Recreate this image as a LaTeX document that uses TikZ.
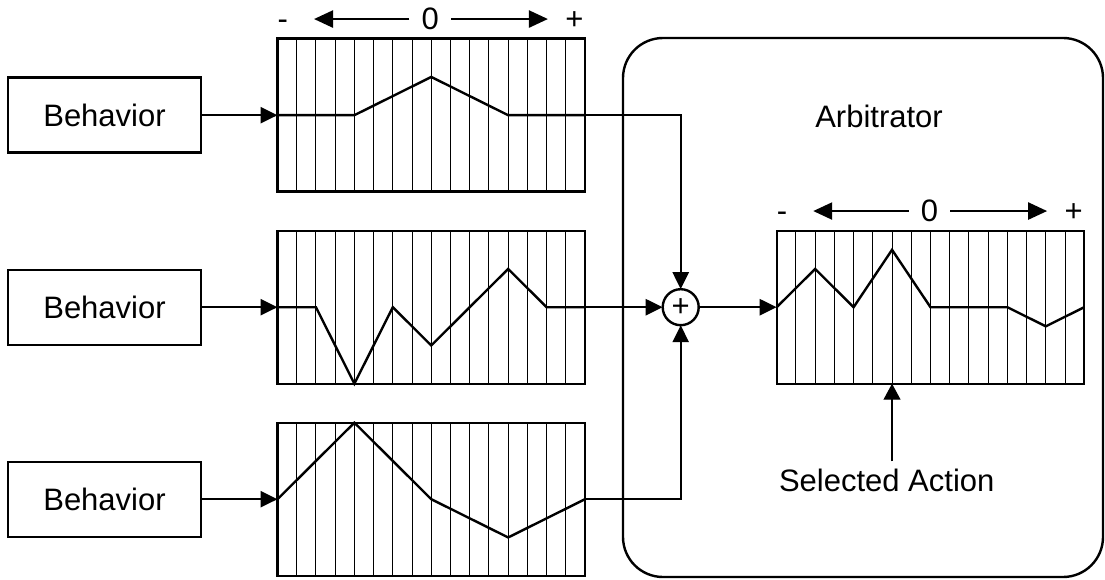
\documentclass[tikz,border=0pt]{standalone}
\usepackage{fontspec}
\setmainfont{Liberation Sans}
\usetikzlibrary{arrows.meta,positioning}

\begin{document}
\begin{tikzpicture}[x=1pt,y=-1pt,
	font=\fontsize{31}{36}\selectfont,
	behavior/.style={rectangle,draw,line width=2.4pt,outer sep=0pt,minimum width=193pt,minimum height=75pt},
	votegrid/.style={rectangle,draw,line width=2.4pt,outer sep=0pt,inner sep=0pt,minimum width=307.5pt,minimum height=153pt},
	divider/.style={line width=1pt},
	profile/.style={line width=2.4pt,line join=miter},
	adder/.style={circle,draw,line width=2.4pt,outer sep=0pt,inner sep=0pt,minimum size=36pt},
	arbiter/.style={rectangle,draw,line width=2.4pt,rounded corners=40pt,minimum width=480pt,minimum height=539pt},
	paths/.style={-{Triangle[length=17pt,width=16pt]}, line width=2.4pt},
	scalearrow/.style={-{Triangle[length=19pt,width=17pt]}, line width=2.4pt},
	pointer/.style={-{Triangle[length=16pt,width=17pt]}, line width=1.2pt},
	endmark/.style={anchor=base,inner sep=0pt},
	midmark/.style={anchor=base,inner xsep=12pt,inner ysep=0pt},
	caption/.style={inner sep=7pt}
	]
\useasboundingbox (0,0) rectangle (1105,580);

% arbitrator frame
\node [arbiter] (arb) at (863,307.5) {};
\node (title) at (879,116) {Arbitrator};

% behaviour vote grids
\node [votegrid] (g2) at (431.25,307.2) {};
\node [votegrid] (g1) [above = 39pt of g2] {};
\node [votegrid] (g3) [below = 39pt of g2] {};
\node [votegrid] (ga) [right = 191.7pt of g2] {};

\node [behavior] (b1) [left = 76.5pt of g1] {Behavior};
\node [behavior] (b2) [left = 76.5pt of g2] {Behavior};
\node [behavior] (b3) [left = 76.5pt of g3] {Behavior};

\node [adder] (sum) [right = 77.7pt of g2] {+};

\foreach \g in {g1,g2,g3,ga} {
	\begin{scope}[shift={(\g.north west)},x=19.22pt,y=-19.125pt]
		\foreach \c in {1,...,15}
			\draw [divider] (\c,0) -- (\c,8);
	\end{scope}
}

% votes of each behaviour
\begin{scope}[shift={(g1.north west)},x=19.22pt,y=-19.125pt]
	\draw [profile] (0,4) -- (4,4) -- (8,2) -- (12,4) -- (16,4);
	\node [endmark] (neg1) at (0.28,-0.47) {-};
	\node [midmark] (mid1) at (7.95,-0.47) {0};
	\node [endmark] (pos1) at (15.45,-0.47) {+};
	\coordinate (lo1) at (1.9,0);
	\coordinate (hi1) at (14.07,0);
\end{scope}
\draw [scalearrow] (mid1.west) -- (mid1.west -| lo1);
\draw [scalearrow] (mid1.east) -- (mid1.east -| hi1);

\begin{scope}[shift={(g2.north west)},x=19.22pt,y=-19.125pt]
	\draw [profile] (0,4) -- (2,4) -- (4,8) -- (6,4) -- (8,6) -- (12,2) -- (14,4) -- (16,4);
\end{scope}

\begin{scope}[shift={(g3.north west)},x=19.22pt,y=-19.125pt]
	\draw [profile] (0,4) -- (4,0) -- (8,4) -- (12,6) -- (16,4);
\end{scope}

% summed votes
\begin{scope}[shift={(ga.north west)},x=19.22pt,y=-19.125pt]
	\draw [profile] (0,4) -- (2,2) -- (4,4) -- (6,1) -- (8,4) -- (12,4) -- (14,5) -- (16,4);
	\node [endmark] (nega) at (0.28,-0.47) {-};
	\node [midmark] (mida) at (7.95,-0.47) {0};
	\node [endmark] (posa) at (15.45,-0.47) {+};
	\coordinate (loa) at (1.9,0);
	\coordinate (hia) at (14.07,0);
	\coordinate (pick) at (6,8);
\end{scope}
\draw [scalearrow] (mida.west) -- (mida.west -| loa);
\draw [scalearrow] (mida.east) -- (mida.east -| hia);

\node [caption] (act) at (886.7,480) {Selected Action};

\draw [paths] (b1.east) -- (g1.west);
\draw [paths] (b2.east) -- (g2.west);
\draw [paths] (b3.east) -- (g3.west);
\draw [paths] (g1.east) -| (sum.north);
\draw [paths] (g2.east) -- (sum.west);
\draw [paths] (g3.east) -| (sum.south);
\draw [paths] (sum.east) -- (ga.west);
\draw [pointer] (act.north -| pick) -- (pick);
\end{tikzpicture}
\end{document}
